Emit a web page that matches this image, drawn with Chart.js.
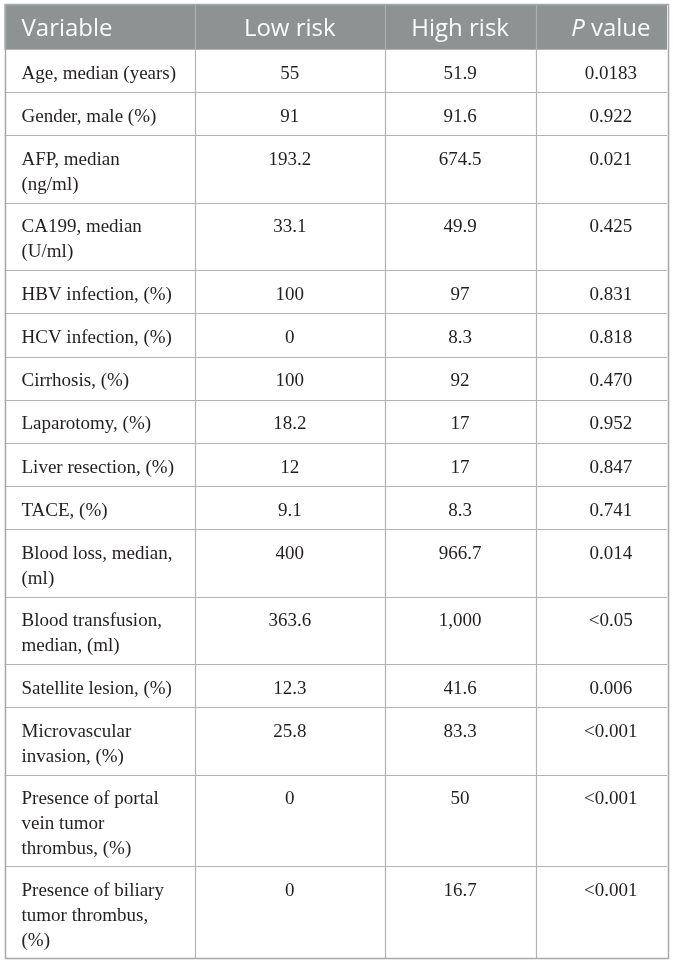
<!DOCTYPE html>
<html>
<head>
<meta charset="utf-8">
<script src="https://cdn.jsdelivr.net/npm/chart.js@4"></script>
<style>
  html, body { margin: 0; padding: 0; background: #ffffff; }
  #wrap { width: 673px; height: 965px; }
</style>
</head>
<body>
<div id="wrap"><canvas id="c" width="673" height="965"></canvas></div>
<script>
// ---------- DATA ----------
const headers = ['Variable', 'Low risk', 'High risk', 'P value'];
const variables = [
  ['Age, median (years)'],
  ['Gender, male (%)'],
  ['AFP, median', '(ng/ml)'],
  ['CA199, median', '(U/ml)'],
  ['HBV infection, (%)'],
  ['HCV infection, (%)'],
  ['Cirrhosis, (%)'],
  ['Laparotomy, (%)'],
  ['Liver resection, (%)'],
  ['TACE, (%)'],
  ['Blood loss, median,', '(ml)'],
  ['Blood transfusion,', 'median, (ml)'],
  ['Satellite lesion, (%)'],
  ['Microvascular', 'invasion, (%)'],
  ['Presence of portal', 'vein tumor', 'thrombus, (%)'],
  ['Presence of biliary', 'tumor thrombus,', '(%)']
];
const lowRisk = [55, 91, 193.2, 33.1, 100, 0, 100, 18.2, 12, 9.1, 400, 363.6, 12.3, 25.8, 0, 0];
const highRisk = [51.9, 91.6, 674.5, 49.9, 97, 8.3, 92, 17, 17, 8.3, 966.7, 1000, 41.6, 83.3, 50, 16.7];
const pValues = ['0.0183', '0.922', '0.021', '0.425', '0.831', '0.818', '0.470', '0.952', '0.847', '0.741', '0.014', '<0.05', '0.006', '<0.001', '<0.001', '<0.001'];

// ---------- LAYOUT (scale units) ----------
const LAYOUT = {
  colWidths: [190.5, 189.5, 151.2, 131.3],
  textOffset: [17, 0, 0, 9.5],      // left pad for col 0, centre shift for others
  headerH: 45,
  rowPad: 19,
  lineH: 24.2,
  textLineH: 24.8,
  firstBaseline: 29.5,
  headerBaseline: 31.5,
  headerBg: '#8d9393',
  headerLine: '#a9aeae',
  gridLine: '#b3b3b3',
  borderLine: '#a8a8a8',
  textColor: '#231f20',
  headColor: '#fbfbfb',
  bodyFont: '19px "Liberation Serif", "DejaVu Serif", serif',
  headFont: '24px "Open Sans", sans-serif',
  headFontItalic: 'italic 24px "Open Sans", sans-serif'
};

const fmt = v => v.toLocaleString('en-US', { maximumFractionDigits: 2 });

// cumulative boundaries in scale units
const colEdges = [0];
LAYOUT.colWidths.forEach(w => colEdges.push(colEdges[colEdges.length - 1] + w));
const rowEdges = [0, LAYOUT.headerH];
variables.forEach(lines => rowEdges.push(rowEdges[rowEdges.length - 1] + LAYOUT.rowPad + LAYOUT.lineH * lines.length));
const xMax = colEdges[colEdges.length - 1];
const yMax = rowEdges[rowEdges.length - 1];

// cell anchor points (one per data cell): column centre, row top
const cellPoints = [];
variables.forEach((lines, r) => {
  for (let c = 0; c < 4; c++) {
    cellPoints.push({ x: (colEdges[c] + colEdges[c + 1]) / 2, y: rowEdges[r + 1], r, c });
  }
});

const tablePlugin = {
  id: 'tablePlugin',
  afterDraw(chart) {
    const { ctx, scales: { x, y } } = chart;
    const X = v => x.getPixelForValue(v);
    const Y = v => y.getPixelForValue(v);
    ctx.save();

    // header background
    ctx.fillStyle = LAYOUT.headerBg;
    ctx.fillRect(X(0), Y(0), X(xMax) - X(0), Y(LAYOUT.headerH) - Y(0));

    // vertical lines in header
    ctx.lineWidth = 1.2;
    ctx.strokeStyle = LAYOUT.headerLine;
    for (let c = 1; c < colEdges.length - 1; c++) {
      const px = Math.round(X(colEdges[c])) + 0.5;
      ctx.beginPath(); ctx.moveTo(px, Y(0)); ctx.lineTo(px, Y(LAYOUT.headerH)); ctx.stroke();
    }

    // body grid
    ctx.strokeStyle = LAYOUT.gridLine;
    for (let r = 1; r < rowEdges.length - 1; r++) {
      const py = Math.round(Y(rowEdges[r])) + 0.5;
      ctx.beginPath(); ctx.moveTo(X(0), py); ctx.lineTo(X(xMax), py); ctx.stroke();
    }
    for (let c = 1; c < colEdges.length - 1; c++) {
      const px = Math.round(X(colEdges[c])) + 0.5;
      ctx.beginPath(); ctx.moveTo(px, Y(LAYOUT.headerH)); ctx.lineTo(px, Y(yMax)); ctx.stroke();
    }

    // outer border
    ctx.strokeStyle = LAYOUT.borderLine;
    ctx.lineWidth = 1.5;
    ctx.strokeRect(Math.round(X(0)) + 0.5, Math.round(Y(0)) + 0.5,
      Math.round(X(xMax) - X(0)), Math.round(Y(yMax) - Y(0)));

    // header text
    ctx.fillStyle = LAYOUT.headColor;
    ctx.textBaseline = 'alphabetic';
    const hb = Y(LAYOUT.headerBaseline);
    ctx.font = LAYOUT.headFont;
    ctx.textAlign = 'left';
    ctx.fillText(headers[0], X(colEdges[0] + LAYOUT.textOffset[0]), hb);
    ctx.textAlign = 'center';
    ctx.fillText(headers[1], X((colEdges[1] + colEdges[2]) / 2 + LAYOUT.textOffset[1]), hb);
    ctx.fillText(headers[2], X((colEdges[2] + colEdges[3]) / 2 + LAYOUT.textOffset[2]), hb);
    // "P value" with italic P
    const pParts = headers[3].split(' ');
    const rest = ' ' + pParts.slice(1).join(' ');
    ctx.font = LAYOUT.headFontItalic;
    const wP = ctx.measureText(pParts[0]).width;
    ctx.font = LAYOUT.headFont;
    const wRest = ctx.measureText(rest).width;
    const cx = X((colEdges[3] + colEdges[4]) / 2 + LAYOUT.textOffset[3]);
    const start = cx - (wP + wRest) / 2;
    ctx.textAlign = 'left';
    ctx.font = LAYOUT.headFontItalic;
    ctx.fillText(pParts[0], start, hb);
    ctx.font = LAYOUT.headFont;
    ctx.fillText(rest, start + wP, hb);

    // body text
    ctx.fillStyle = LAYOUT.textColor;
    ctx.font = LAYOUT.bodyFont;
    const meta = chart.getDatasetMeta(0);
    const baseOff = Y(LAYOUT.firstBaseline) - Y(0);
    const step = Y(LAYOUT.textLineH) - Y(0);
    cellPoints.forEach((pt, i) => {
      const el = meta.data[i];
      const base = el.y + baseOff;
      if (pt.c === 0) {
        ctx.textAlign = 'left';
        variables[pt.r].forEach((line, k) => {
          ctx.fillText(line, X(colEdges[0] + LAYOUT.textOffset[0]), base + k * step);
        });
      } else {
        ctx.textAlign = 'center';
        let txt;
        if (pt.c === 1) txt = fmt(lowRisk[pt.r]);
        else if (pt.c === 2) txt = fmt(highRisk[pt.r]);
        else txt = pValues[pt.r];
        ctx.fillText(txt, el.x + (X(LAYOUT.textOffset[pt.c]) - X(0)), base);
      }
    });
    ctx.restore();
  }
};

new Chart(document.getElementById('c'), {
  type: 'scatter',
  data: {
    datasets: [{
      data: cellPoints.map(p => ({ x: p.x, y: p.y })),
      pointRadius: 0,
      pointHoverRadius: 0
    }]
  },
  options: {
    responsive: false,
    animation: false,
    devicePixelRatio: 1,
    layout: { padding: { left: 4.5, right: 6, top: 4, bottom: 965 - 4 - yMax } },
    plugins: { legend: { display: false }, tooltip: { enabled: false } },
    events: [],
    scales: {
      x: { type: 'linear', display: false, min: 0, max: xMax },
      y: { type: 'linear', display: false, min: 0, max: yMax, reverse: true }
    }
  },
  plugins: [tablePlugin]
});
</script>
</body>
</html>
